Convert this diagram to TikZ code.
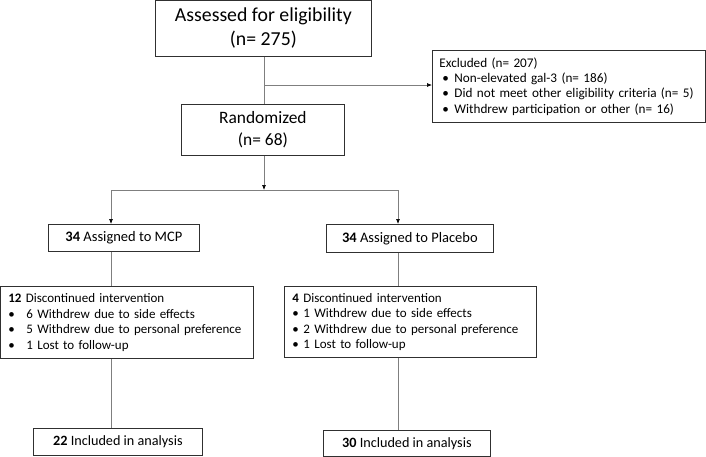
\documentclass[tikz,border=0pt]{standalone}
\usepackage{fontspec}
\setmainfont{Carlito}
\usetikzlibrary{arrows.meta}
\definecolor{linegray}{HTML}{7F7F7F}
\definecolor{boxline}{HTML}{303030}

\newcommand{\bul}[2]{\makebox[#1][l]{\textbullet}#2}

\begin{document}
\begin{tikzpicture}[x=1pt,y=-1pt,
  box/.style={draw=boxline,line width=0.8pt,anchor=north west,inner xsep=8pt,inner ysep=0pt},
  link/.style={draw=linegray,line width=0.7pt},
  arrow/.style={link,-{Latex[length=5pt,width=4pt,color=black]}}]

\useasboundingbox (0,0) rectangle (706,456);

\node[box,minimum width=216pt,minimum height=56pt,align=center,
      font=\fontsize{19.8}{24}\selectfont] (assess) at (155,0) {Assessed for eligibility\\(n= 275)};
\node[box,minimum width=163pt,minimum height=51pt,align=center,
      font=\fontsize{17.4}{22}\selectfont] (rand) at (181,104) {Randomized\\(n= 68)};
\node[box,minimum width=273pt,minimum height=72pt,align=left,text width=259pt,inner xsep=7pt,
      font=\fontsize{13.2}{15.3}\selectfont] (excl) at (432,50)
      {Excluded (n= 207)\\
       \hspace*{3pt}\bul{12pt}{Non-elevated gal-3 (n= 186)}\\
       \hspace*{3pt}\bul{12pt}{Did not meet other eligibility criteria (n= 5)}\\
       \hspace*{3pt}\bul{12pt}{Withdrew participation or other (n= 16)}};

\node[box,minimum width=151pt,minimum height=27pt,font=\fontsize{14.5}{17}\selectfont] (mcp) at (48,224) {\textbf{34} Assigned to MCP};
\node[box,minimum width=167pt,minimum height=28pt,font=\fontsize{14.5}{17}\selectfont] (plac) at (326,224) {\textbf{34} Assigned to Placebo};

\node[box,minimum width=253pt,minimum height=72pt,align=left,text width=237pt,
      font=\fontsize{13}{15.5}\selectfont] (stopA) at (0,286)
      {\textbf{12} Discontinued intervention\\
       \bul{18pt}{6 Withdrew due to side effects}\\
       \bul{18pt}{5 Withdrew due to personal preference}\\
       \bul{18pt}{1 Lost to follow-up}};
\node[box,minimum width=252pt,minimum height=71pt,align=left,text width=236pt,
      font=\fontsize{13}{15.5}\selectfont] (stopB) at (284,286)
      {\textbf{4} Discontinued intervention\\
       \bul{11pt}{1 Withdrew due to side effects}\\
       \bul{11pt}{2 Withdrew due to personal preference}\\
       \bul{11pt}{1 Lost to follow-up}};

\node[box,minimum width=169pt,minimum height=27pt,font=\fontsize{14.2}{17}\selectfont] (inclA) at (33,428) {\textbf{22} Included in analysis};
\node[box,minimum width=167pt,minimum height=26pt,font=\fontsize{14.2}{17}\selectfont] (inclB) at (323,430) {\textbf{30} Included in analysis};

% branch points
\coordinate (side) at (264,85);
\coordinate (split) at (264,190);
\coordinate (colA) at (111,190);
\coordinate (colB) at (398,190);

\draw[link] (assess.south -| side) -- (rand.north -| side);
\draw[arrow] (side) -- (excl.west |- side);
\draw[arrow] (rand.south -| split) -- (split);
\draw[link] (colA) -- (colB);
\draw[arrow] (colA) -- (colA |- mcp.north);
\draw[arrow] (colB) -- (colB |- plac.north);

\draw[link] (colA |- mcp.south) -- (colA |- stopA.north);
\draw[link] (colB |- plac.south) -- (colB |- stopB.north);
\draw[link] (colA |- stopA.south) -- (colA |- inclA.north);
\draw[link] (colB |- stopB.south) -- (colB |- inclB.north);

\end{tikzpicture}
\end{document}
